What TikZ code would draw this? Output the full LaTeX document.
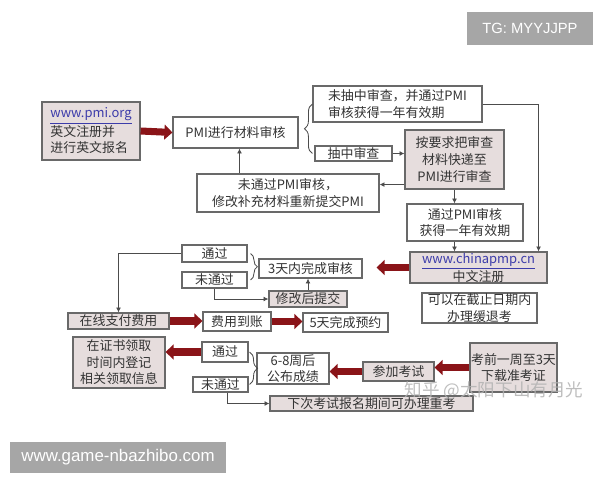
\documentclass[tikz,border=0pt]{standalone}
\usepackage{fontspec}
\usepackage{xcolor}
\usepackage{tikz}
\usetikzlibrary{arrows.meta,calc,decorations.pathreplacing}
\newfontfamily\cjk{Noto Sans CJK SC}
\newfontfamily\wmfont{Liberation Sans}
\definecolor{boxfill}{RGB}{230,221,221}
\definecolor{boxline}{RGB}{105,105,105}
\definecolor{darkred}{RGB}{138,20,24}
\definecolor{linkblue}{RGB}{60,60,170}
\definecolor{wmgray}{RGB}{166,166,166}

\tikzset{
	stage/.style={draw=boxline, line width=0.8pt, fill=white, text=black!80, inner sep=0pt,
		font=\cjk\fontsize{9.2}{11.8}\selectfont, align=center},
	stagefill/.style={stage, fill=boxfill},
	wh/.style 2 args={minimum width=#1*0.025cm, minimum height=#2*0.025cm},
	link/.style={draw=black!70, line width=0.6pt, -{Latex[length=3.5pt,width=3.5pt]}},
	bigarrow/.style={draw=darkred, line width=5pt, -{Triangle[length=5.7pt,width=10.5pt]}},
	curl/.style={draw=black!70, line width=0.6pt, decorate, decoration={brace,amplitude=#1}},
	wmark/.style={fill=wmgray, text=white, inner sep=0pt, font=\wmfont}
}

\begin{document}
\begin{tikzpicture}[x=0.025cm,y=-0.025cm]
	
	\useasboundingbox (0,0) rectangle (600,480);
	
	% registration and PMI review
	\node[stagefill, wh={98}{58}, align=left] (reg) at (91,131) {\textcolor{linkblue}{\underline{www.pmi.org}}\\英文注册并\\进行英文报名};
	\node[stage, wh={125}{31}] (pmi) at (235.5,132.5) {PMI进行材料审核};
	\node[stage, wh={169}{36}, align=left] (nodraw) at (397.5,104) {未抽中审查，并通过PMI\\审核获得一年有效期};
	\node[stage, wh={77}{15}] (audit) at (353.5,153.5) {抽中审查};
	\node[stagefill, wh={99}{59}] (send) at (454.5,159.5) {按要求把审查\\材料快递至\\PMI进行审查};
	\node[stage, wh={182}{38}] (fail) at (288,193) {未通过PMI审核，\\修改补充材料重新提交PMI};
	\node[stage, wh={116}{37}] (pass) at (465,222.5) {通过PMI审核\\获得一年有效期};
	\node[stagefill, wh={137}{31}] (cn) at (478.5,267.5) {\textcolor{linkblue}{\underline{www.chinapmp.cn}}\\中文注册};
	\node[stage, wh={115}{30}] (defer) at (479.5,308) {可以在截止日期内\\办理缓退考};
	
	% chinese review and payment
	\node[stage, wh={103}{19}] (check) at (310.5,268.5) {3天内完成审核};
	\node[stage, wh={65}{17}] (ok1) at (214.5,253.5) {通过};
	\node[stage, wh={65}{16}] (no1) at (214.5,280) {未通过};
	\node[stagefill, wh={78}{16}] (redo) at (308,299) {修改后提交};
	\node[stagefill, wh={101}{16}] (pay) at (118.5,321) {在线支付费用};
	\node[stage, wh={68}{19}] (paid) at (237,321.5) {费用到账};
	\node[stage, wh={85}{19}] (book) at (345.5,322.5) {5天完成预约};
	
	% exam and results
	\node[stagefill, wh={92}{51}] (cert) at (119,362.5) {在证书领取\\时间内登记\\相关领取信息};
	\node[stage, wh={46}{20}] (ok2) at (225,352) {通过};
	\node[stage, wh={55}{15}] (no2) at (220.5,384.5) {未通过};
	\node[stage, wh={72}{31}] (score) at (293,368.5) {6-8周后\\公布成绩};
	\node[stagefill, wh={71}{19}] (exam) at (398.5,371.5) {参加考试};
	\node[stagefill, wh={87}{49}] (ticket) at (513.5,367.5) {考前一周至3天\\下载准考证};
	\node[stagefill, wh={203}{15}] (again) at (371.5,403.5) {下次考试报名期间可办理重考};
	
	% helper points
	\coordinate (up) at ($(pmi.south)+(4,0)$);
	\coordinate (back) at ($(send.south west)+(0,-5)$);
	\coordinate (down) at ($(cn.north east)+(-9,0)$);
	\coordinate (retry) at ($(no2.south)+(7,0)$);
	
	% thick arrows
	\draw[bigarrow] (reg.east) -- (pmi.west);
	\draw[bigarrow, shorten >=0.35cm] (cn.west) -- (cn.west -| check.east);
	\draw[bigarrow] (pay.east) -- (pay.east -| paid.west);
	\draw[bigarrow] (paid.east) -- (paid.east -| book.west);
	\draw[bigarrow] (ok2.west) -- (ok2.west -| cert.east);
	\draw[bigarrow] (exam.west) -- (exam.west -| score.east);
	\draw[bigarrow] (ticket.west) -- (ticket.west -| exam.east);
	
	% thin arrows
	\draw[link] (nodraw.east) -| (down);
	\draw[link] (audit.east) -- (audit.east -| send.west);
	\draw[link] (back) -- (back -| fail.east);
	\draw[link] (up |- fail.north) -- (up);
	\draw[link] (send.south) -- (send.south |- pass.north);
	\draw[link] (send.south |- pass.south) -- (send.south |- cn.north);
	\draw[link] (ok1.west) -| (pay.north);
	\draw[link] (no1.south) |- (redo.west);
	\draw[link] (redo.north) -- (redo.north |- check.south);
	\draw[link] (retry) |- (again.west);
	
	% braces
	\draw[curl=0.2cm] (nodraw.west |- audit.west) -- (nodraw.west);
	\draw[curl=0.17cm] ($(ok1.east)+(3,0)$) -- ($(no1.east)+(3,0)$);
	\draw[curl=0.2cm] ($(ok2.east)+(1,0)$) -- ($(no2.east)+(1,0)$);
	
	% watermarks
	\node[wmark, wh={126}{33}, font=\wmfont\fontsize{10.5}{12}\selectfont] (tg) at (530,28.5) {TG: MYYJJPP};
	\node[wmark, wh={216}{31}, font=\wmfont\fontsize{12}{14}\selectfont] (site) at (118,457) {www.game-nbazhibo.com};
	\node[text=black!30, text opacity=0.85, font=\cjk\fontsize{12.5}{14}\selectfont] (zhihu) at (494,391) {知乎 @太阳下山有月光};
	
\end{tikzpicture}
\end{document}
